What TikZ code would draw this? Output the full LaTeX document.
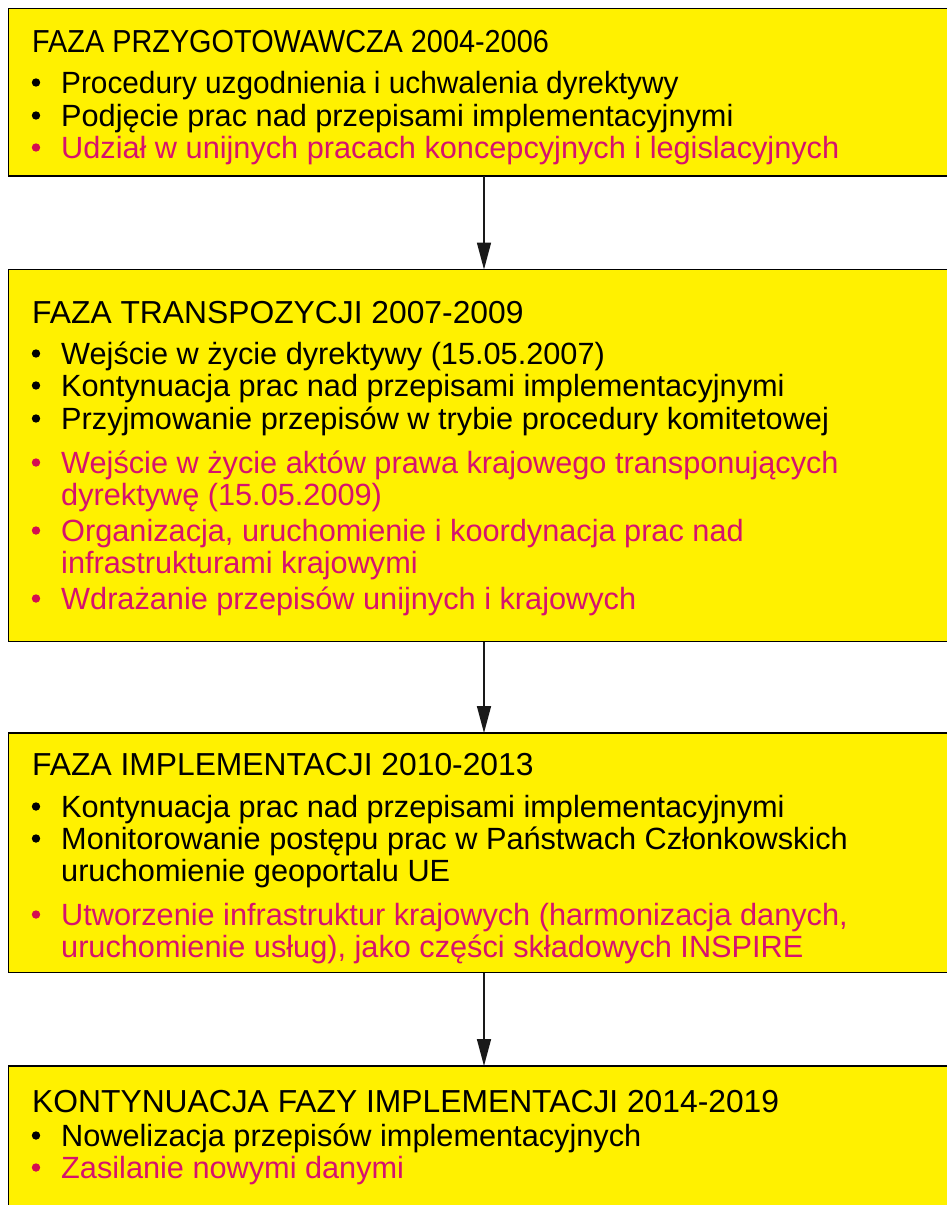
\documentclass[tikz,border=0pt]{standalone}
\usepackage{fontspec}
\setmainfont{Liberation Sans}
\usetikzlibrary{arrows.meta}
\definecolor{boxyellow}{RGB}{255,241,0}
\definecolor{itemred}{RGB}{214,18,110}
\definecolor{dotred}{RGB}{212,14,80}
\tikzset{
  phasebox/.style={draw=black, line width=1.8pt, fill=boxyellow, anchor=north west, minimum width=980pt, inner sep=0pt, outer sep=0pt},
  line/.style={anchor=base west, inner sep=0pt, font=\fontsize{30.7}{34}\selectfont},
  title/.style={anchor=base west, inner sep=0pt, font=\fontsize{31.8}{34}\selectfont},
  redline/.style={line, text=itemred},
  flow/.style={draw=black!90, line width=1.6pt, -{Triangle[width=14pt,length=27pt]}},
}
\newcommand{\blackdot}[1]{\fill[black] (36,#1-10.5) circle (4.2pt);}
\newcommand{\reddot}[1]{\fill[dotred] (36,#1-10.5) circle (4.2pt);}
\begin{document}
\begin{tikzpicture}[x=1pt,y=-1pt]
\useasboundingbox (0,0) rectangle (947,1205);
\clip (0,0) rectangle (947,1205);
% boxes
\node[phasebox, minimum height=167.5pt] (b1) at (8.5,8.5) {};
\node[phasebox, minimum height=372pt] (b2) at (8.5,269.5) {};
\node[phasebox, minimum height=239.5pt] (b3) at (8.5,733) {};
\node[phasebox, minimum height=200pt] (b4) at (8.5,1066) {};
\coordinate (ax) at (484,0);
% box 1
\node[title] (t1) at (32,52) {\scalebox{0.907}[1]{FAZA PRZYGOTOWAWCZA 2004-2006}};
\blackdot{93}\node[line] (l11) at (61,93) {\scalebox{0.97}[1]{Procedury uzgodnienia i uchwalenia dyrektywy}};
\blackdot{126}\node[line] (l12) at (61,126) {Podjęcie prac nad przepisami implementacyjnymi};
\reddot{158}\node[redline] (l13) at (61,158) {Udział w unijnych pracach koncepcyjnych i legislacyjnych};
% box 2
\node[title] (t2) at (32,323) {FAZA TRANSPOZYCJI 2007-2009};
\blackdot{364}\node[line] (l21) at (61,364) {Wejście w życie dyrektywy (15.05.2007)};
\blackdot{396}\node[line] (l22) at (61,396) {Kontynuacja prac nad przepisami implementacyjnymi};
\blackdot{429}\node[line] (l23) at (61,429) {Przyjmowanie przepisów w trybie procedury komitetowej};
\reddot{473}\node[redline] (l24) at (61,473) {Wejście w życie aktów prawa krajowego transponujących};
\node[redline] (l25) at (61,505) {dyrektywę (15.05.2009)};
\reddot{541}\node[redline] (l26) at (61,541) {Organizacja, uruchomienie i koordynacja prac nad};
\node[redline] (l27) at (61,573) {infrastrukturami krajowymi};
\reddot{609}\node[redline] (l28) at (61,609) {Wdrażanie przepisów unijnych i krajowych};
% box 3
\node[title] (t3) at (32,775) {FAZA IMPLEMENTACJI 2010-2013};
\blackdot{817}\node[line] (l31) at (61,817) {Kontynuacja prac nad przepisami implementacyjnymi};
\blackdot{849}\node[line] (l32) at (61,849) {Monitorowanie postępu prac w Państwach Członkowskich};
\node[line] (l33) at (61,881) {uruchomienie geoportalu UE};
\reddot{925}\node[redline] (l34) at (61,925) {Utworzenie infrastruktur krajowych (harmonizacja danych,};
\node[redline] (l35) at (61,957) {uruchomienie usług), jako części składowych INSPIRE};
% box 4
\node[title] (t4) at (32,1112) {KONTYNUACJA FAZY IMPLEMENTACJI 2014-2019};
\blackdot{1146}\node[line] (l41) at (61,1146) {Nowelizacja przepisów implementacyjnych};
\reddot{1178}\node[redline] (l42) at (61,1178) {Zasilanie nowymi danymi};
% arrows
\draw[flow] (b1.south -| ax) -- (b2.north -| ax);
\draw[flow] (b2.south -| ax) -- (b3.north -| ax);
\draw[flow] (b3.south -| ax) -- (b4.north -| ax);
\end{tikzpicture}
\end{document}
